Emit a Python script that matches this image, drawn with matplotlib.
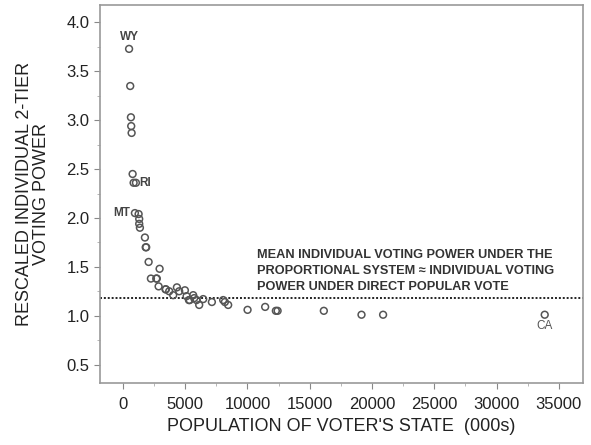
import matplotlib
matplotlib.use("Agg")
import matplotlib.pyplot as plt
from matplotlib.ticker import MultipleLocator

plt.rcParams['font.family'] = ['Liberation Sans', 'DejaVu Sans']

population = [494, 586, 642, 666, 698, 778, 859, 1043, 963, 1260, 1308, 1308, 1364,
              1766, 1830, 1870, 2063, 2945, 2247, 2680, 2720, 2865, 3420, 3450, 3716,
              4334, 4518, 4037, 4976, 5112, 5642, 5722, 5300, 5360, 5915, 6445, 6124,
              7143, 8050, 8186, 8451, 10008, 11420, 12280, 12420, 16132, 19157, 20891,
              33868]
power = [3.73, 3.35, 3.03, 2.94, 2.87, 2.45, 2.36, 2.36, 2.05, 2.04, 1.99, 1.94, 1.90,
         1.80, 1.70, 1.70, 1.55, 1.48, 1.38, 1.38, 1.38, 1.30, 1.27, 1.27, 1.25,
         1.29, 1.25, 1.21, 1.26, 1.20, 1.21, 1.18, 1.16, 1.16, 1.16, 1.17, 1.11,
         1.14, 1.16, 1.14, 1.11, 1.06, 1.09, 1.05, 1.05, 1.05, 1.01, 1.01,
         1.01]
labels = {"WY": (494, 3.73), "RI": (1043, 2.36), "MT": (963, 2.05), "CA": (33868, 1.01)}
mean_power = 1.18
x_ticks = [0, 5000, 10000, 15000, 20000, 25000, 30000, 35000]
y_ticks = [0.5, 1.0, 1.5, 2.0, 2.5, 3.0, 3.5, 4.0]

fig = plt.figure(figsize=(5.91, 4.45), dpi=100)
ax = fig.add_axes([0.169, 0.139, 0.817, 0.850])

gray = '#555555'
ax.scatter(population, power, s=24, facecolors='none', edgecolors=gray, linewidths=1.1, zorder=3)
ax.axhline(mean_power, color='#222222', linestyle=(0, (1, 1)), linewidth=1.4, zorder=2)

lab_kw = dict(fontsize=8.5, color='#444444', fontweight='bold')
ax.text(labels["WY"][0], labels["WY"][1] + 0.06, "WY", ha='center', va='bottom', **lab_kw)
ax.text(labels["RI"][0] + 300, labels["RI"][1], "RI", ha='left', va='center', **lab_kw)
ax.text(labels["MT"][0] - 350, labels["MT"][1], "MT", ha='right', va='center', **lab_kw)
ax.text(labels["CA"][0], labels["CA"][1] - 0.05, "CA", ha='center', va='top',
        fontsize=8.5, color='#555555')

ax.text(10800, 1.23,
        "MEAN INDIVIDUAL VOTING POWER UNDER THE\nPROPORTIONAL SYSTEM \u2248 INDIVIDUAL VOTING\nPOWER UNDER DIRECT POPULAR VOTE",
        fontsize=9.2, color='#333333', ha='left', va='bottom', linespacing=1.45,
        fontweight='bold')

ax.set_xlim(-1850, 36920)
ax.set_ylim(0.31, 4.18)
ax.set_xticks(x_ticks)
ax.set_yticks(y_ticks)
ax.set_yticklabels([f"{v:.1f}" for v in y_ticks])
ax.xaxis.set_minor_locator(MultipleLocator(2500))
ax.yaxis.set_minor_locator(MultipleLocator(0.25))
ax.tick_params(which='major', length=4, color='#888888', labelsize=12, labelcolor='#222222')
ax.tick_params(which='minor', length=2, color='#aaaaaa')
ax.tick_params(axis='x', pad=6)
for s in ax.spines.values():
    s.set_color('#999999')
    s.set_linewidth(1.2)

ax.set_xlabel("POPULATION OF VOTER'S STATE  (000s)", fontsize=13, color='#222222', labelpad=4)
ax.set_ylabel("RESCALED INDIVIDUAL 2-TIER\nVOTING POWER", fontsize=13, color='#222222',
              labelpad=12, linespacing=1.0)

fig.savefig("out.png", dpi=100)
